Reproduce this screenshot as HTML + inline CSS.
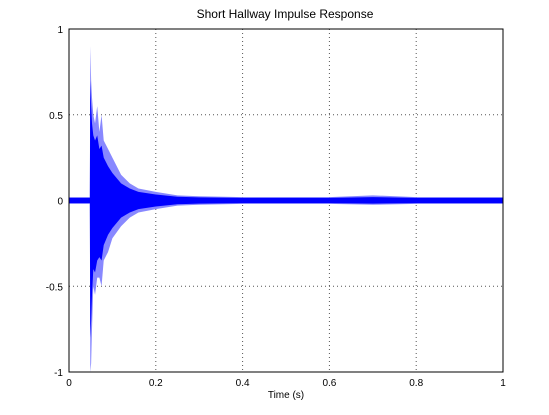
<!DOCTYPE html>
<html><head><meta charset="utf-8">
<style>
html,body{margin:0;padding:0;background:#fff;}
svg{display:block;font-family:"Liberation Sans","DejaVu Sans",sans-serif;}
</style></head>
<body>
<svg id="chart" width="549" height="415" viewBox="0 0 549 415">
<text x="285" y="18" font-size="12" text-anchor="middle">Short Hallway Impulse Response</text>
<g id="grid"></g>
<g id="series"></g>
<rect x="69" y="29" width="434" height="343" fill="none" stroke="#000" stroke-width="1"/>
<g id="ticks"></g>
<text x="286" y="398" font-size="10" text-anchor="middle">Time (s)</text>
</svg>
<script>
const times = [0,0.048,0.049,0.051,0.053,0.056,0.06,0.065,0.07,0.075,0.08,0.09,0.1,0.12,0.14,0.16,0.2,0.25,0.3,0.4,0.5,0.6,0.7,0.8,0.9,1.0];
const peakUpper = [0.02,0.02,0.9,0.7,0.6,0.5,0.45,0.55,0.4,0.5,0.35,0.3,0.25,0.15,0.1,0.07,0.05,0.03,0.025,0.02,0.02,0.02,0.03,0.02,0.02,0.02];
const peakLower = [-0.02,-0.02,-1,-0.95,-0.75,-0.5,-0.55,-0.45,-0.45,-0.5,-0.35,-0.3,-0.22,-0.15,-0.1,-0.07,-0.05,-0.03,-0.025,-0.02,-0.02,-0.02,-0.025,-0.02,-0.02,-0.02];
const coreUpper = [0.015,0.015,0.7,0.55,0.45,0.38,0.35,0.38,0.3,0.32,0.25,0.2,0.16,0.1,0.07,0.05,0.035,0.022,0.018,0.015,0.015,0.015,0.02,0.015,0.015,0.015];
const coreLower = [-0.015,-0.015,-0.8,-0.7,-0.55,-0.4,-0.42,-0.35,-0.33,-0.35,-0.26,-0.2,-0.16,-0.1,-0.07,-0.05,-0.035,-0.022,-0.018,-0.015,-0.015,-0.015,-0.018,-0.015,-0.015,-0.015];
const xTicks = [0,0.2,0.4,0.6,0.8,1];
const xTickLabels = ["0","0.2","0.4","0.6","0.8","1"];
const yTicks = [-1,-0.5,0,0.5,1];
const yTickLabels = ["-1","-0.5","0","0.5","1"];

const X0=69,X1=503,Y0=372,Y1=29;
const xs = v => X0 + (v-0)/(1-0)*(X1-X0);
const ys = v => Y0 - (v+1)/2*(Y0-Y1);
const NS="http://www.w3.org/2000/svg";
const grid=document.getElementById('grid'), ticks=document.getElementById('ticks'), series=document.getElementById('series');

xTicks.forEach((t,i)=>{
  const x=xs(t);
  if(i>0&&i<xTicks.length-1){
    const g=document.createElementNS(NS,'line');
    
    
    g.setAttribute('x1',x);g.setAttribute('x2',x);g.setAttribute('y1',Y1);g.setAttribute('y2',Y0);
    g.setAttribute('stroke','#555');g.setAttribute('stroke-dasharray','1,3');
    grid.appendChild(g);
  }
  const tk=document.createElementNS(NS,'text');
  
  
  tk.setAttribute('x',x);tk.setAttribute('y',Y0+14);tk.setAttribute('font-size','10');tk.setAttribute('text-anchor','middle');
  tk.textContent=xTickLabels[i];ticks.appendChild(tk);
});
yTicks.forEach((t,i)=>{
  const y=ys(t);
  if(i>0&&i<yTicks.length-1){
    const g=document.createElementNS(NS,'line');
    
    
    g.setAttribute('x1',X0);g.setAttribute('x2',X1);g.setAttribute('y1',y);g.setAttribute('y2',y);
    g.setAttribute('stroke','#555');g.setAttribute('stroke-dasharray','1,3');
    grid.appendChild(g);
  }
  const tk=document.createElementNS(NS,'text');
  
  
  tk.setAttribute('x',X0-6);tk.setAttribute('y',y+4);tk.setAttribute('font-size','10');tk.setAttribute('text-anchor','end');
  tk.textContent=yTickLabels[i];ticks.appendChild(tk);
});
function band(up,lo,fill,name){
  let pts=times.map((t,i)=>xs(t)+','+ys(up[i]));
  for(let i=times.length-1;i>=0;i--) pts.push(xs(times[i])+','+ys(lo[i]));
  const p=document.createElementNS(NS,'polygon');
  
  
  p.setAttribute('points',pts.join(' '));p.setAttribute('fill',fill);
  series.appendChild(p);
}
band(peakUpper,peakLower,'#8888ff','waveform-peak-envelope');
band(coreUpper,coreLower,'#0000ff','waveform-core');
</script>
</body></html>
